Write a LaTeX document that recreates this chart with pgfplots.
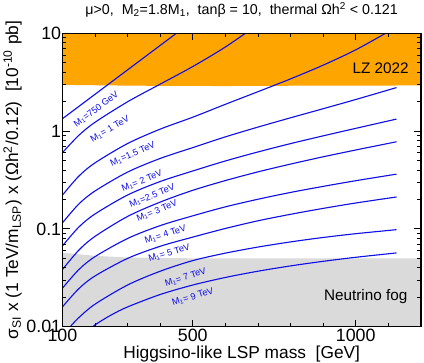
\documentclass[border=0pt]{standalone}
\usepackage{pgfplots}
\pgfplotsset{compat=1.18}
\usepackage{fontspec}
\setmainfont{Liberation Sans}
\definecolor{lzorange}{RGB}{255,165,0}
\definecolor{foggray}{RGB}{218,218,218}
\definecolor{lineblue}{RGB}{15,15,235}

\begin{document}
\begin{tikzpicture}
\begin{axis}[
  scale only axis,
  width=352pt, height=288pt,
  xmin=100, xmax=1200,
  ymode=log, ymin=0.01, ymax=10,
  xtick={100,500,1000}, xticklabels={100,500,1000},
  minor xtick={200,300,400,600,700,800,900,1100,1200},
  ytick={0.01,0.1,1,10}, yticklabels={0.01,0.1,1,10},
  minor ytick={0.02,0.03,0.04,0.05,0.06,0.07,0.08,0.09,0.2,0.3,0.4,0.5,0.6,0.7,0.8,0.9,2,3,4,5,6,7,8,9},
  tick align=inside,
  major tick length=7pt, minor tick length=4pt,
  every tick/.style={black, line width=0.8pt},
  axis line style={line width=1.1pt},
  ticklabel style={font=\fontsize{17.5}{20}\selectfont},
  yticklabel style={inner sep=1pt},
  xticklabel style={inner sep=2.5pt},
  xlabel={Higgsino-like LSP mass\ \ [GeV]},
  ylabel={σ\textsubscript{SI} x (1 TeV/m\textsubscript{LSP}) x (Ωh\textsuperscript{2}/0.12)\ \ [10\textsuperscript{-10} pb]},
  label style={font=\fontsize{17}{20}\selectfont},
  xlabel style={inner sep=1pt},
  title={μ>0,\ \ M\textsubscript{2}=1.8M\textsubscript{1},\ \ tanβ = 10,\ \ thermal Ωh\textsuperscript{2} < 0.121},
  title style={font=\fontsize{14}{16}\selectfont, at={(0.5,1)}, anchor=base, yshift=12.5pt, inner sep=0pt},
  axis on top,
]
% LZ 2022 excluded region
\addplot[fill=lzorange, draw=none] coordinates {
  (100,2.97) (250,2.93) (400,2.90) (600,2.89) (800,2.91) (1200,2.93) (1200,10) (100,10)} -- cycle;
% neutrino fog
\addplot[fill=foggray, draw=none] coordinates {
  (100,0.0571) (200,0.0530) (300,0.0510) (500,0.0500) (1200,0.0498) (1200,0.01) (100,0.01)} -- cycle;

% M1 = 750 GeV
\addplot[lineblue, line width=1.1pt, smooth] coordinates {
  (100,1.337) (150,1.782) (200,2.377) (250,3.170) (300,4.227) (400,7.516) (500,13.37)};
% M1 = 1 TeV
\addplot[lineblue, line width=1.1pt, smooth] coordinates {
  (100,0.601) (150,0.902) (200,1.230) (300,1.995) (400,3.020) (500,4.571) (600,7.244) (700,12.30)};
% M1 = 1.5 TeV
\addplot[lineblue, line width=1.1pt, smooth] coordinates {
  (100,0.221) (150,0.345) (200,0.473) (300,0.746) (400,1.047) (500,1.387) (600,1.879)
  (700,2.529) (800,3.420) (900,4.721) (1000,6.776) (1100,10.38)};
% M1 = 2 TeV
\addplot[lineblue, line width=1.1pt, smooth] coordinates {
  (100,0.115) (150,0.179) (200,0.244) (300,0.381) (400,0.525) (500,0.678) (600,0.873)
  (700,1.099) (800,1.368) (900,1.694) (1000,2.104) (1125,2.786)};
% M1 = 2.5 TeV
\addplot[lineblue, line width=1.1pt, smooth] coordinates {
  (100,0.0668) (150,0.104) (200,0.142) (300,0.222) (400,0.305) (500,0.391) (600,0.495)
  (700,0.612) (800,0.745) (900,0.894) (1000,1.067) (1125,1.327)};
% M1 = 3 TeV
\addplot[lineblue, line width=1.1pt, smooth] coordinates {
  (100,0.0383) (150,0.0604) (200,0.0838) (300,0.134) (400,0.188) (500,0.248) (600,0.312)
  (700,0.383) (800,0.460) (900,0.546) (1000,0.641) (1125,0.778)};
% M1 = 4 TeV
\addplot[lineblue, line width=1.1pt, smooth] coordinates {
  (100,0.0247) (150,0.0382) (200,0.0520) (300,0.0798) (400,0.108) (500,0.136) (600,0.168)
  (700,0.201) (800,0.236) (900,0.272) (1000,0.311) (1125,0.363)};
% M1 = 5 TeV
\addplot[lineblue, line width=1.1pt, smooth] coordinates {
  (100,0.0159) (150,0.0244) (200,0.0330) (300,0.0499) (400,0.0664) (500,0.0824) (600,0.101)
  (700,0.121) (800,0.141) (900,0.162) (1000,0.184) (1125,0.212)};
% M1 = 7 TeV
\addplot[lineblue, line width=1.1pt, smooth] coordinates {
  (100,0.00789) (120,0.00964) (150,0.01233) (200,0.01698) (300,0.02667) (400,0.0369)
  (500,0.0474) (600,0.0565) (700,0.0652) (800,0.0736) (900,0.0817) (1000,0.0893) (1125,0.0982)};
% M1 = 9 TeV
\addplot[lineblue, line width=1.1pt, smooth] coordinates {
  (150,0.00769) (200,0.01042) (250,0.01318) (300,0.01592) (400,0.02133) (500,0.02667)
  (600,0.03186) (700,0.03692) (800,0.04183) (900,0.04660) (1000,0.05124) (1125,0.05679)};

% region labels
\node[anchor=base east, inner sep=0pt, font=\fontsize{15}{17}\selectfont] at (axis cs:1163,3.87) {LZ 2022};
\node[anchor=base east, inner sep=0pt, font=\fontsize{15}{17}\selectfont] at (axis cs:1159,0.0187) {Neutrino fog};

% curve labels
\tikzset{clab/.style={font=\fontsize{9}{10}\selectfont, text=lineblue, inner sep=0pt}}
\node[clab, rotate=37] at (axis cs:204,1.66) {M\textsubscript{1}=750 GeV};
\node[clab, rotate=30] at (axis cs:246,1.05) {M\textsubscript{1}= 1 TeV};
\node[clab, rotate=24] at (axis cs:316,0.58) {M\textsubscript{1}=1.5 TeV};
\node[clab, rotate=22] at (axis cs:344,0.31) {M\textsubscript{1}= 2 TeV};
\node[clab, rotate=22] at (axis cs:375,0.217) {M\textsubscript{1}=2.5 TeV};
\node[clab, rotate=22] at (axis cs:390,0.152) {M\textsubscript{1}= 3 TeV};
\node[clab, rotate=18] at (axis cs:416,0.087) {M\textsubscript{1}= 4 TeV};
\node[clab, rotate=17] at (axis cs:428,0.0565) {M\textsubscript{1}= 5 TeV};
\node[clab, rotate=18] at (axis cs:478,0.0318) {M\textsubscript{1}= 7 TeV};
\node[clab, rotate=17] at (axis cs:500,0.0201) {M\textsubscript{1}= 9 TeV};
\end{axis}
\path ([yshift=32.7pt]current axis.north) ([xshift=3pt]current axis.east);
\end{tikzpicture}
\end{document}
